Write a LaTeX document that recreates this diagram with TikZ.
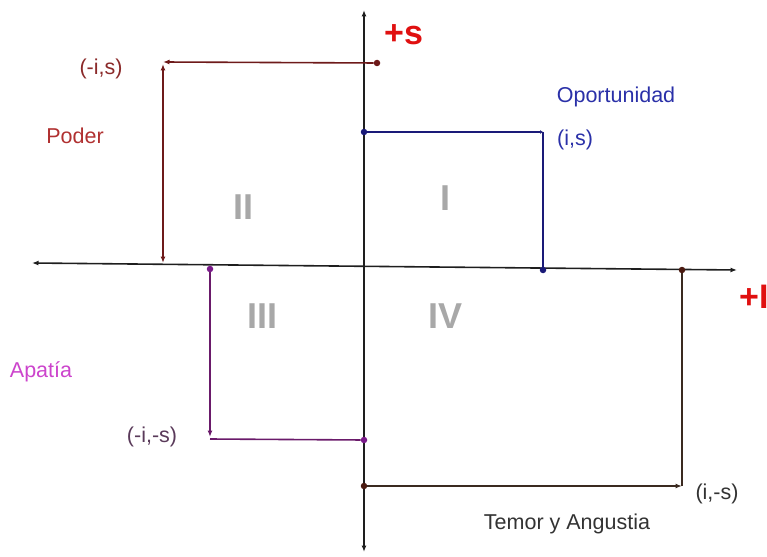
\documentclass[tikz,border=0pt]{standalone}
\usepackage{fontspec}
\setmainfont{Liberation Sans}
\usetikzlibrary{arrows.meta}
\definecolor{axiscol}{HTML}{1E1E1E}
\definecolor{podercol}{HTML}{6E1A1A}
\definecolor{podertxt}{HTML}{B03030}
\definecolor{podercoord}{HTML}{8B2A2A}
\definecolor{opcol}{HTML}{1A1A78}
\definecolor{optxt}{HTML}{2A30A8}
\definecolor{apcol}{HTML}{6A1A6A}
\definecolor{apdot}{HTML}{7A1A8A}
\definecolor{aptxt}{HTML}{CC44CC}
\definecolor{apcoord}{HTML}{5A3A5A}
\definecolor{tecol}{HTML}{3A2A20}
\definecolor{tedot}{HTML}{4A1A10}
\definecolor{tetxt}{HTML}{333333}
\definecolor{quadgray}{HTML}{A8A8A8}
\definecolor{signred}{HTML}{E01010}
\tikzset{
  dotn/.style={circle, fill=#1, draw=none, inner sep=0pt, minimum size=6.5pt},
  lbl/.style={font=\fontsize{21.5}{21.5}\selectfont, text=#1, inner sep=0pt},
  quad/.style={font=\fontsize{36}{36}\selectfont\bfseries, text=quadgray, inner sep=0pt},
  sign/.style={font=\fontsize{34}{34}\selectfont\bfseries, text=signred, inner sep=0pt},
  seg/.style={line width=1.6pt, draw=#1},
  tip/.tip={Latex[length=6.5pt,width=5pt]},
  smalltip/.tip={Latex[length=3pt,width=4pt]}
}
\begin{document}
\begin{tikzpicture}[x=1pt,y=-1pt]
\useasboundingbox (0,0) rectangle (767,556);
% axes
\coordinate (xl) at (32,263);
\coordinate (xr) at (737,270);
\coordinate (yt) at (364,10);
\coordinate (yb) at (364,552);
\draw[seg=axiscol, tip-tip] (xl) -- (xr);
\draw[seg=axiscol, tip-tip] (yb) -- (yt);
% Poder (II)
\node[dotn=podercol] (pd) at (377,63) {};
\coordinate (pc) at (163,62);
\coordinate (pb) at (163,263);
\draw[seg=podercol, -tip] (pd) -- (pc);
\draw[seg=podercol, tip-tip] (163,64) -- (pb);
% Oportunidad (I)
\node[dotn=opcol] (bd) at (364,132) {};
\coordinate (bc) at (543,132);
\node[dotn=opcol] (be) at (543,270) {};
\draw[seg=opcol, -smalltip] (bd) -- (bc);
\draw[seg=opcol] (bc) -- (be);
% Apatia (III)
\node[dotn=apdot] (ad) at (210,269) {};
\coordinate (ac) at (210,439);
\node[dotn=apdot] (ae) at (364,440) {};
\draw[seg=apcol, -tip] (ad) -- (210,437);
\draw[seg=apcol] (ac) -- (ae);
% Temor (IV)
\node[dotn=tedot] (td) at (364,486) {};
\coordinate (tc) at (682,486);
\node[dotn=tedot] (te) at (682,270) {};
\draw[seg=tecol, -tip] (td) -- (tc);
\draw[seg=tecol] (tc) -- (te);
% labels
\node[lbl=podercoord] (lpc) at (101,69) {(-i,s)};
\node[lbl=podertxt] (lp) at (75,136) {Poder};
\node[lbl=optxt] (lo) at (616,97) {Oportunidad};
\node[lbl=optxt] (loc) at (575,140) {(i,s)};
\node[lbl=aptxt] (la) at (41,372) {Apatía};
\node[lbl=apcoord] (lac) at (152,437) {(-i,-s)};
\node[lbl=tetxt] (ltc) at (717,494) {(i,-s)};
\node[lbl=tetxt] (lt) at (567,524) {Temor y Angustia};
% quadrants
\node[quad] (q1) at (445.5,198) {I};
\node[quad] (q2) at (243,207) {II};
\node[quad] (q3) at (262,316) {III};
\node[quad] (q4) at (445,316) {IV};
% signs
\node[sign, anchor=west] (ps) at (384,35) {+s};
\node[sign, anchor=west] (pi) at (739,297) {+I};
\end{tikzpicture}
\end{document}
